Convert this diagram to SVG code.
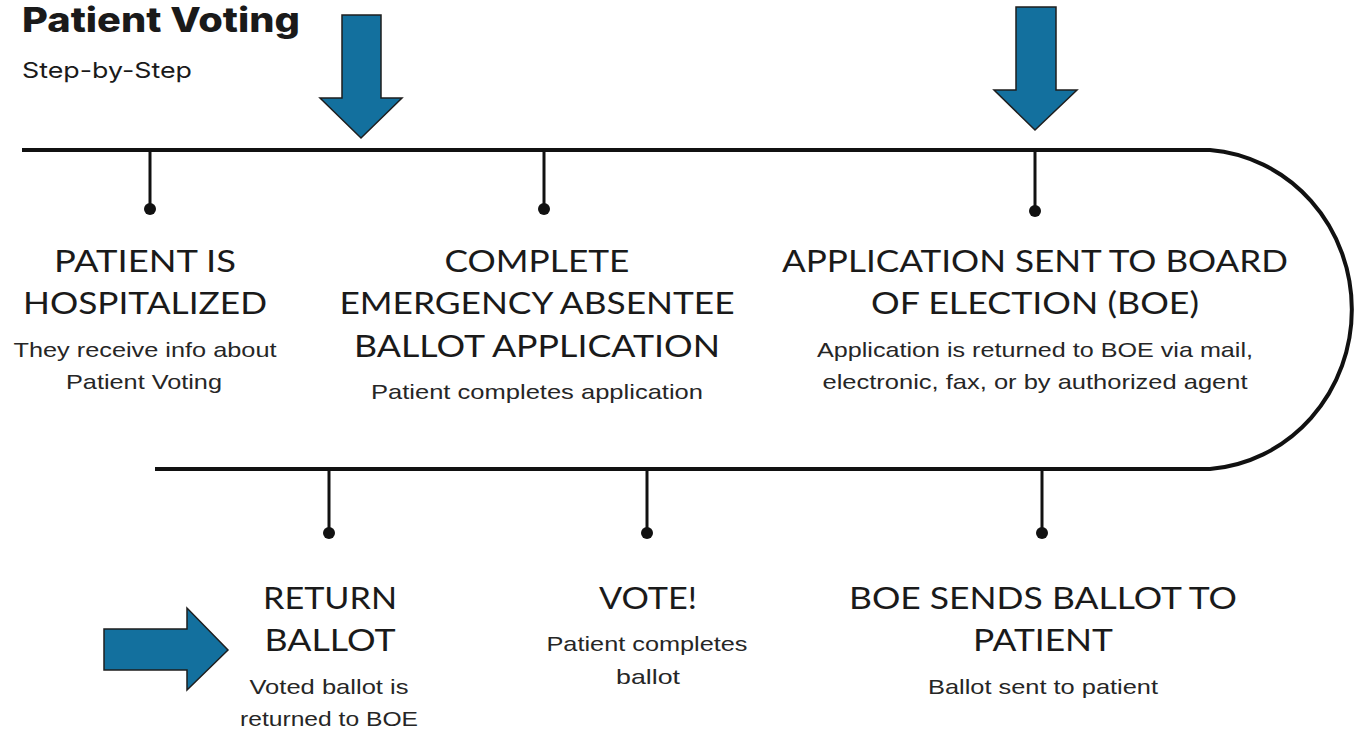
<svg xmlns="http://www.w3.org/2000/svg" width="1356" height="729" viewBox="0 0 1356 729">
<style>
.h{font-family:"Lato","Liberation Sans","DejaVu Sans",sans-serif;font-weight:400;font-size:30px;fill:#1a1a1a;text-anchor:middle}
.s{font-family:"Liberation Sans","DejaVu Sans",sans-serif;font-size:21px;fill:#262626;text-anchor:middle}
.line{stroke:#111;stroke-width:4;fill:none}
.tick{stroke:#111;stroke-width:3}
.dot{fill:#111}
.arrow{fill:#13709e;stroke:#1e1e1e;stroke-width:1.5;stroke-linejoin:miter}
</style>
<rect width="1356" height="729" fill="#fff"/>
<text x="22" y="32" font-family="Inter, Liberation Sans, DejaVu Sans, sans-serif" font-weight="800" font-size="34" fill="#1a1a1a" textLength="278" lengthAdjust="spacingAndGlyphs">Patient Voting</text>
<text x="22" y="78" font-family="Inter, Liberation Sans, DejaVu Sans, sans-serif" font-size="22" fill="#1a1a1a" textLength="170" lengthAdjust="spacingAndGlyphs">Step-by-Step</text>
<g id="connectors">
<path class="line" d="M22 150 H1210 A154 160 0 0 1 1210 469 H155"/>
<line class="tick" x1="150" y1="150" x2="150" y2="208"/><circle class="dot" cx="150" cy="209" r="6"/>
<line class="tick" x1="544" y1="150" x2="544" y2="208"/><circle class="dot" cx="544" cy="209" r="6"/>
<line class="tick" x1="1035" y1="150" x2="1035" y2="210"/><circle class="dot" cx="1035" cy="211" r="6"/>
<line class="tick" x1="329" y1="469" x2="329" y2="532"/><circle class="dot" cx="329" cy="533" r="6"/>
<line class="tick" x1="647" y1="469" x2="647" y2="532"/><circle class="dot" cx="647" cy="533" r="6"/>
<line class="tick" x1="1042" y1="469" x2="1042" y2="532"/><circle class="dot" cx="1042" cy="533" r="6"/>
</g>
<g id="arrow1"><polygon class="arrow" points="342,15 381,15 381,98 402,98 361,138 320,98 342,98"/></g>
<g id="arrow2"><polygon class="arrow" points="1016,7 1056,7 1056,90 1077,90 1035,130 994,90 1016,90"/></g>
<g id="arrow3"><polygon class="arrow" points="104,629 187,629 187,608 228,650 187,690 187,670 104,670"/></g>
<g id="step1">
<text class="h" x="145" y="272" textLength="182" lengthAdjust="spacingAndGlyphs">PATIENT IS</text>
<text class="h" x="145" y="314" textLength="244" lengthAdjust="spacingAndGlyphs">HOSPITALIZED</text>
<text class="s" x="145" y="357" textLength="263" lengthAdjust="spacingAndGlyphs">They receive info about</text>
<text class="s" x="144" y="389" textLength="156" lengthAdjust="spacingAndGlyphs">Patient Voting</text>
</g>
<g id="step2">
<text class="h" x="537" y="272" textLength="185" lengthAdjust="spacingAndGlyphs">COMPLETE</text>
<text class="h" x="537" y="314" textLength="395" lengthAdjust="spacingAndGlyphs">EMERGENCY ABSENTEE</text>
<text class="h" x="537" y="357" textLength="366" lengthAdjust="spacingAndGlyphs">BALLOT APPLICATION</text>
<text class="s" x="537" y="399" textLength="332" lengthAdjust="spacingAndGlyphs">Patient completes application</text>
</g>
<g id="step3">
<text class="h" x="1035" y="272" textLength="506" lengthAdjust="spacingAndGlyphs">APPLICATION SENT TO BOARD</text>
<text class="h" x="1035" y="314" textLength="328" lengthAdjust="spacingAndGlyphs">OF ELECTION (BOE)</text>
<text class="s" x="1035" y="357" textLength="436" lengthAdjust="spacingAndGlyphs">Application is returned to BOE via mail,</text>
<text class="s" x="1035" y="389" textLength="425" lengthAdjust="spacingAndGlyphs">electronic, fax, or by authorized agent</text>
</g>
<g id="step4">
<text class="h" x="1043" y="609" textLength="388" lengthAdjust="spacingAndGlyphs">BOE SENDS BALLOT TO</text>
<text class="h" x="1043" y="651" textLength="140" lengthAdjust="spacingAndGlyphs">PATIENT</text>
<text class="s" x="1043" y="694" textLength="230" lengthAdjust="spacingAndGlyphs">Ballot sent to patient</text>
</g>
<g id="step5">
<text class="h" x="648" y="609" textLength="98" lengthAdjust="spacingAndGlyphs">VOTE!</text>
<text class="s" x="647" y="651" textLength="201" lengthAdjust="spacingAndGlyphs">Patient completes</text>
<text class="s" x="648" y="684" textLength="64" lengthAdjust="spacingAndGlyphs">ballot</text>
</g>
<g id="step6">
<text class="h" x="330" y="609" textLength="134" lengthAdjust="spacingAndGlyphs">RETURN</text>
<text class="h" x="330" y="651" textLength="131" lengthAdjust="spacingAndGlyphs">BALLOT</text>
<text class="s" x="329" y="694" textLength="159" lengthAdjust="spacingAndGlyphs">Voted ballot is</text>
<text class="s" x="329" y="726" textLength="178" lengthAdjust="spacingAndGlyphs">returned to BOE</text>
</g>
</svg>
